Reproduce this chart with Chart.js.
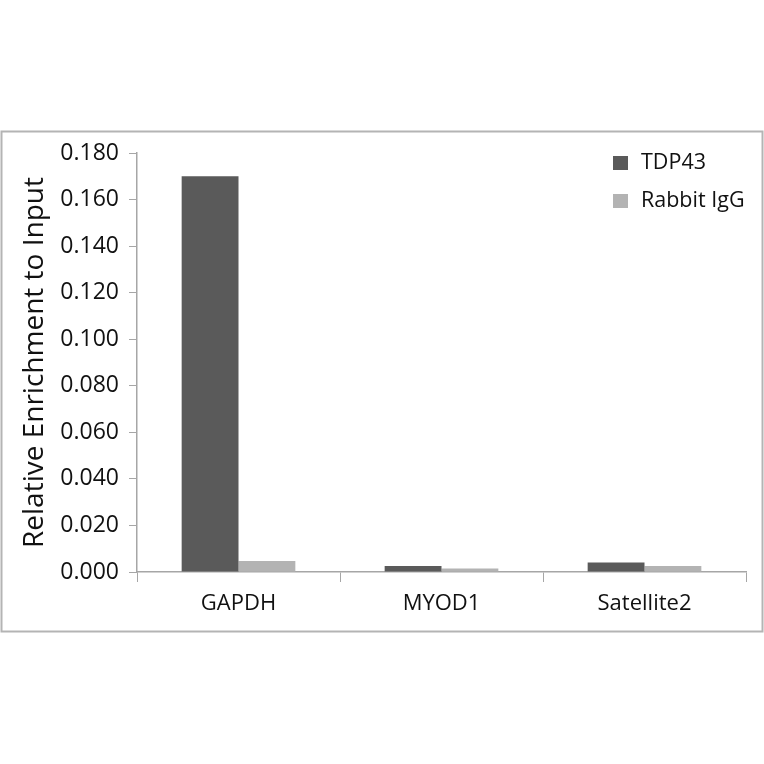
<!DOCTYPE html>
<html lang="en">

<head>
    <meta charset="UTF-8">
    <title>Relative Enrichment to Input</title>
    <script src="https://cdn.jsdelivr.net/npm/chart.js@4.4.0/dist/chart.umd.min.js"></script>
    <style>
        body { margin: 0; background: #fff; }
        #chartEnrich { display: block; }
    </style>
</head>

<body>
    <canvas id="chartEnrich" width="764" height="764"></canvas>
</body>

</html>
<script>
    var categorias = ['GAPDH', 'MYOD1', 'Satellite2'];
    var tdp43 = [0.170, 0.0026, 0.0041];
    var rabbitIgG = [0.0047, 0.0015, 0.0026];
    var ticksY = [0, 0.02, 0.04, 0.06, 0.08, 0.10, 0.12, 0.14, 0.16, 0.18];

    var corEixo = '#a6a6a6';
    var corTexto = '#111111';
    var fonte = "'Open Sans', 'Noto Sans', sans-serif";

    // moldura em volta do grafico
    var moldura = {
        id: 'moldura',
        beforeDraw: function (chart) {
            var ctx = chart.ctx;
            ctx.save();
            ctx.fillStyle = '#ffffff';
            ctx.fillRect(0, 0, chart.width, chart.height);
            ctx.strokeStyle = '#b4b4b4';
            ctx.lineWidth = 2;
            ctx.strokeRect(1.5, 131.5, 761, 500);
            ctx.restore();
        }
    };

    // legenda vertical dentro da area do grafico
    var legendaDentro = {
        id: 'legendaDentro',
        afterDraw: function (chart) {
            var ctx = chart.ctx;
            ctx.save();
            ctx.font = '21.5px ' + fonte;
            ctx.textBaseline = 'middle';
            chart.data.datasets.forEach(function (ds, i) {
                var y = 163 + i * 38;
                ctx.fillStyle = ds.backgroundColor;
                ctx.fillRect(613, y - 7, 15, 14);
                ctx.fillStyle = corTexto;
                ctx.fillText(ds.label, 641, y);
            });
            ctx.restore();
        }
    };

    var configEnrich = {
        type: 'bar',
        data: {
            labels: categorias,
            datasets: [{
                label: 'TDP43',
                data: tdp43,
                backgroundColor: '#5a5a5a'
            }, {
                label: 'Rabbit IgG',
                data: rabbitIgG,
                backgroundColor: '#b3b3b3'
            }]
        },
        options: {
            responsive: false,
            animation: false,
            categoryPercentage: 0.56,
            barPercentage: 1,
            layout: {
                padding: { left: 0, top: 153, right: 18, bottom: 0 }
            },
            plugins: {
                legend: { display: false },
                tooltip: { enabled: false }
            },
            scales: {
                x: {
                    grid: {
                        display: true,
                        drawOnChartArea: false,
                        drawTicks: true,
                        tickLength: 10,
                        color: corEixo
                    },
                    border: { color: corEixo, width: 1.5 },
                    ticks: {
                        color: corTexto,
                        padding: 9,
                        font: { family: fonte, size: 22 }
                    },
                    afterFit: function (s) { s.height = 192; }
                },
                y: {
                    min: 0,
                    max: 0.18,
                    afterBuildTicks: function (s) {
                        s.ticks = ticksY.map(function (v) { return { value: v }; });
                    },
                    grid: {
                        display: true,
                        drawOnChartArea: false,
                        drawTicks: true,
                        tickLength: 8,
                        color: corEixo
                    },
                    border: { color: corEixo, width: 1.5 },
                    ticks: {
                        color: corTexto,
                        padding: 10,
                        font: { family: fonte, size: 23 },
                        callback: function (v) { return Number(v).toFixed(3); }
                    },
                    title: {
                        display: true,
                        text: 'Relative Enrichment to Input',
                        color: corTexto,
                        font: { family: fonte, size: 28 },
                        padding: { top: 18, bottom: 0 }
                    },
                    afterFit: function (s) { s.width = 137; }
                }
            }
        },
        plugins: [moldura, legendaDentro]
    };

    var ctx = document.getElementById('chartEnrich').getContext('2d');
    window.myBar = new Chart(ctx, configEnrich);
</script>
